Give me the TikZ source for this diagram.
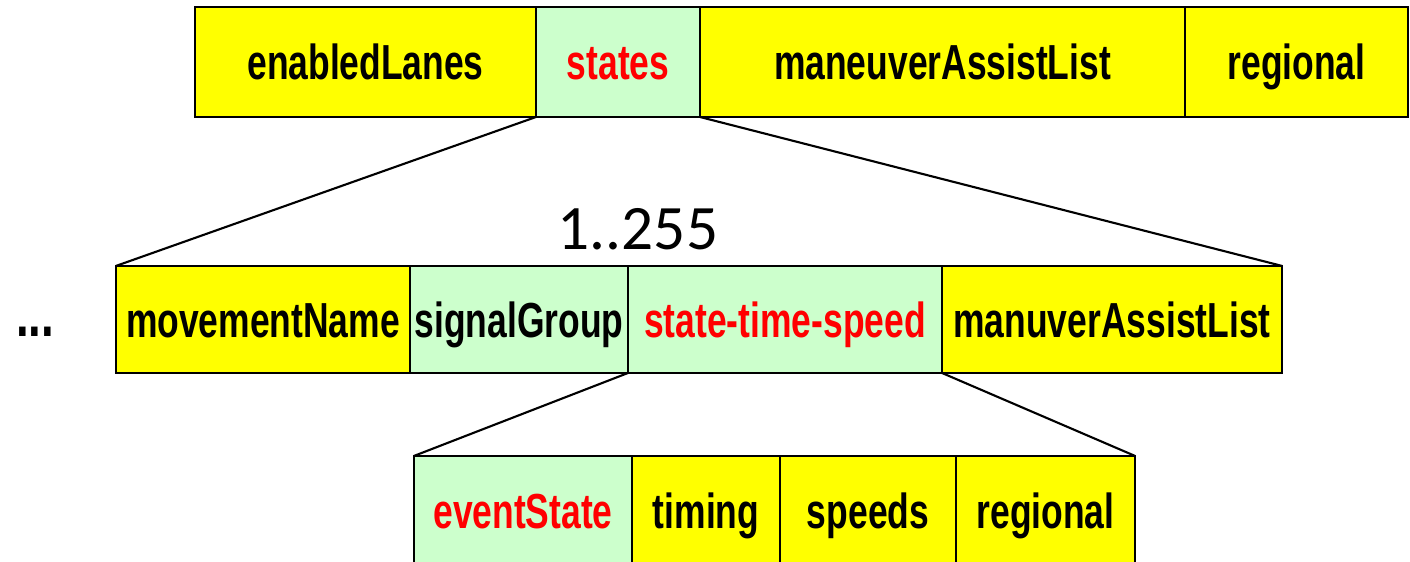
\documentclass[tikz,border=0pt]{standalone}
\usepackage{fontspec}
\usepackage{xcolor}
\setmainfont{Liberation Sans}
\newfontfamily\fieldfont[FakeStretch=0.72]{Liberation Sans Bold}
\newfontfamily\countfont{Carlito}
\definecolor{fieldyellow}{HTML}{FFFF00}
\definecolor{keygreen}{HTML}{CCFFCC}
\definecolor{keyred}{HTML}{FF0000}

\begin{document}
\begin{tikzpicture}[x=0.01cm,y=-0.01cm,
	field/.style={draw,fill=fieldyellow,line width=0.6pt,inner sep=0pt,outer sep=0pt,
		text height=10pt,text depth=0pt,
		font=\fieldfont\fontsize{14pt}{16pt}\selectfont},
	keyfield/.style={field,fill=keygreen,text=keyred}]
	\useasboundingbox(0,0)rectangle(1410,562);
	\node[field,minimum width=3.41cm,minimum height=1.1cm](enabledLanes)at(365.5,62){enabledLanes};
	\node[keyfield,minimum width=1.64cm,minimum height=1.1cm](states)at(618,62){states};
	\node[field,minimum width=4.85cm,minimum height=1.1cm](maneuverAssistList)at(942.5,62){maneuverAssistList};
	\node[field,minimum width=2.23cm,minimum height=1.1cm](regionalTop)at(1296.5,62){regional};
	\node[field,minimum width=2.94cm,minimum height=1.07cm](movementName)at(263,319.5){movementName};
	\node[keyfield,text=black,minimum width=2.18cm,minimum height=1.07cm](signalGroup)at(519,319.5){signalGroup};
	\node[keyfield,minimum width=3.14cm,minimum height=1.07cm](stateTimeSpeed)at(785,319.5){state-time-speed};
	\node[field,minimum width=3.40cm,minimum height=1.07cm](manuverAssistList)at(1112,319.5){manuverAssistList};
	\node[keyfield,minimum width=2.18cm,minimum height=1.1cm](eventState)at(523,511){eventState};
	\node[field,minimum width=1.48cm,minimum height=1.1cm](timing)at(706,511){timing};
	\node[field,minimum width=1.76cm,minimum height=1.1cm](speeds)at(868,511){speeds};
	\node[field,minimum width=1.79cm,minimum height=1.1cm](regionalBottom)at(1045.5,511){regional};
	\node[font=\countfont\fontsize{18pt}{21pt}\selectfont](count)at(638,229){1..255};
	\node[font=\fieldfont\fontsize{18pt}{20pt}\selectfont](dots)at(35,332){...};
	\draw[line width=0.6pt](states.south west)--(movementName.north west);
	\draw[line width=0.6pt](states.south east)--(manuverAssistList.north east);
	\draw[line width=0.6pt](stateTimeSpeed.south west)--(eventState.north west);
	\draw[line width=0.6pt](stateTimeSpeed.south east)--(regionalBottom.north east);
\end{tikzpicture}
\end{document}
